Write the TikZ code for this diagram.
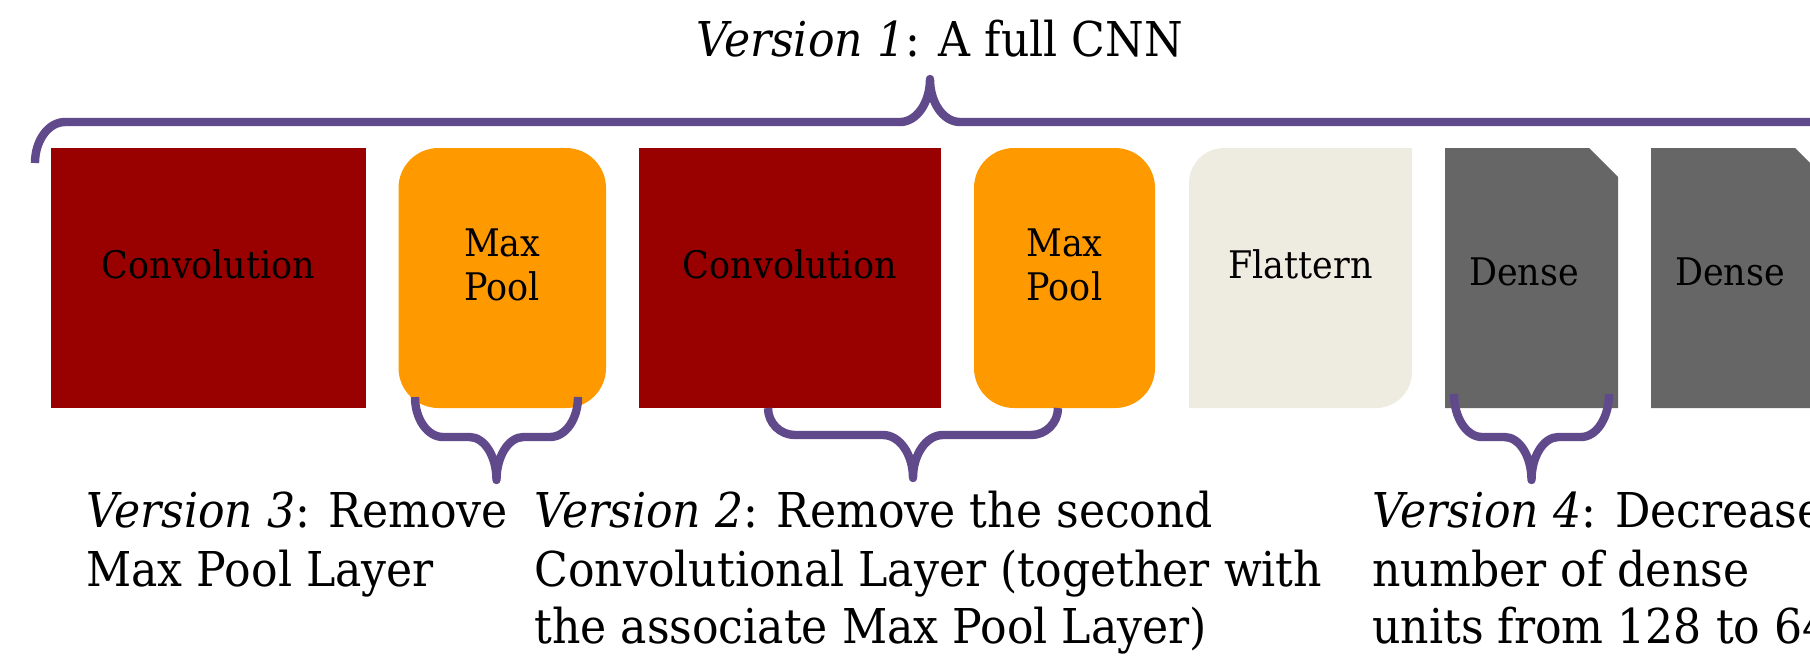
\documentclass[tikz,border=0pt]{standalone}
\usepackage{fontspec}
\setmainfont{DejaVu Serif}[FakeStretch=0.92]
\usetikzlibrary{calc}
\definecolor{convred}{HTML}{990000}
\definecolor{poolorange}{HTML}{FF9900}
\definecolor{flatbeige}{HTML}{EEECE1}
\definecolor{densegray}{HTML}{666666}
\definecolor{bracepurple}{HTML}{604A8B}
\tikzset{
  boxbase/.style={inner sep=0pt, outer sep=0pt, draw=none},
  convbox/.style={boxbase, fill=convred},
  poolbox/.style={boxbase, fill=poolorange, rounded corners=20pt},
  boxlbl/.style={inner sep=0pt, anchor=base, font=\fontsize{19}{22}\selectfont},
  verlbl/.style={inner sep=0pt, anchor=base west, font=\fontsize{24}{29}\selectfont},
  titlelbl/.style={inner sep=0pt, anchor=base, font=\fontsize{24}{29}\selectfont},
  bracestyle/.style={draw=bracepurple, line width=4.2pt, line join=round, line cap=butt},
}
% x1 x2 xtip yend yhoriz ytip curlwidth tipwidth
\newcommand\mybrace[8]{%
  \draw[bracestyle] (#1,#4)
    .. controls (#1,{#4+0.552*(#5-#4)}) and ({#1+0.448*#7},#5) .. ({#1+#7},#5)
    -- ({#3-#8},#5)
    .. controls ({#3-0.448*#8},#5) and (#3,{#6-0.552*(#6-#5)}) .. (#3,#6)
    .. controls (#3,{#6-0.552*(#6-#5)}) and ({#3+0.448*#8},#5) .. ({#3+#8},#5)
    -- ({#2-#7},#5)
    .. controls ({#2-0.448*#7},#5) and (#2,{#4+0.552*(#5-#4)}) .. (#2,#4);}
\begin{document}
\begin{tikzpicture}[x=0.5pt,y=-0.5pt]
\useasboundingbox (0,0) rectangle (1810,655);
\clip (0,0) rectangle (1810,655);
% boxes
\node[convbox, minimum width=157.5pt, minimum height=130pt] (conv1) at (208.5,278) {};
\node[poolbox, minimum width=103.75pt, minimum height=130pt] (pool1) at (502.25,278) {};
\node[convbox, minimum width=151.25pt, minimum height=130pt] (conv2) at (789.75,278) {};
\node[poolbox, minimum width=90.5pt, minimum height=130pt] (pool2) at (1064.5,278) {};
\node[boxbase, minimum width=111.5pt, minimum height=130pt] (flat) at (1300.5,278) {};
\node[boxbase, minimum width=86.5pt, minimum height=130pt] (dense1) at (1531.5,278) {};
\node[boxbase, minimum width=86.5pt, minimum height=130pt] (dense2) at (1737.5,278) {};
\fill[flatbeige] (flat.south west) -- ($(flat.north west)+(0,35)$)
  .. controls ($(flat.north west)+(0,15.7)$) and ($(flat.north west)+(15.7,0)$) .. ($(flat.north west)+(35,0)$)
  -- (flat.north east) -- ($(flat.south east)+(0,-36)$)
  .. controls ($(flat.south east)+(0,-16.1)$) and ($(flat.south east)+(-16.1,0)$) .. ($(flat.south east)+(-36,0)$)
  -- cycle;
\fill[densegray] (dense1.south west) -- (dense1.north west) -- ($(dense1.north east)+(-29,0)$)
  -- ($(dense1.north east)+(0,29)$) -- (dense1.south east) -- cycle;
\fill[densegray] (dense2.south west) -- (dense2.north west) -- ($(dense2.north east)+(-29,0)$)
  -- ($(dense2.north east)+(0,29)$) -- (dense2.south east) -- cycle;
% box labels
\node[boxlbl] (conv1t) at (208.5,278) {Convolution};
\node[boxlbl] (pool1a) at (502.25,256) {Max};
\node[boxlbl] (pool1b) at (502.25,300) {Pool};
\node[boxlbl] (conv2t) at (789.75,278) {Convolution};
\node[boxlbl] (pool2a) at (1064.5,256) {Max};
\node[boxlbl] (pool2b) at (1064.5,300) {Pool};
\node[boxlbl] (flatt) at (1300.5,278) {Flattern};
\node[boxlbl] (dense1t) at (1524,285) {Dense};
\node[boxlbl] (dense2t) at (1730,285) {Dense};
% braces
\mybrace{35}{1860}{930}{163}{122}{79}{30}{30}
\mybrace{415}{578}{496.5}{397}{437}{480}{28}{27}
\mybrace{768}{1058}{913}{408}{435}{478}{27}{30}
\mybrace{1454}{1609}{1531.5}{394}{437}{480}{28}{27}
% texts
\node[titlelbl] (v1) at (939.5,56) {\textit{Version 1}: A full CNN};
\node[verlbl] (v3a) at (86,527) {\textit{Version 3}: Remove};
\node[verlbl] (v3b) at (86,586) {Max Pool Layer};
\node[verlbl] (v2a) at (534,527) {\textit{Version 2}: Remove the second};
\node[verlbl] (v2b) at (534,586) {Convolutional Layer (together with};
\node[verlbl] (v2c) at (534,643) {the associate Max Pool Layer)};
\node[verlbl] (v4a) at (1372,527) {\textit{Version 4}: Decrease};
\node[verlbl] (v4b) at (1372,586) {number of dense};
\node[verlbl] (v4c) at (1372,643) {units from 128 to 64};
\end{tikzpicture}
\end{document}
